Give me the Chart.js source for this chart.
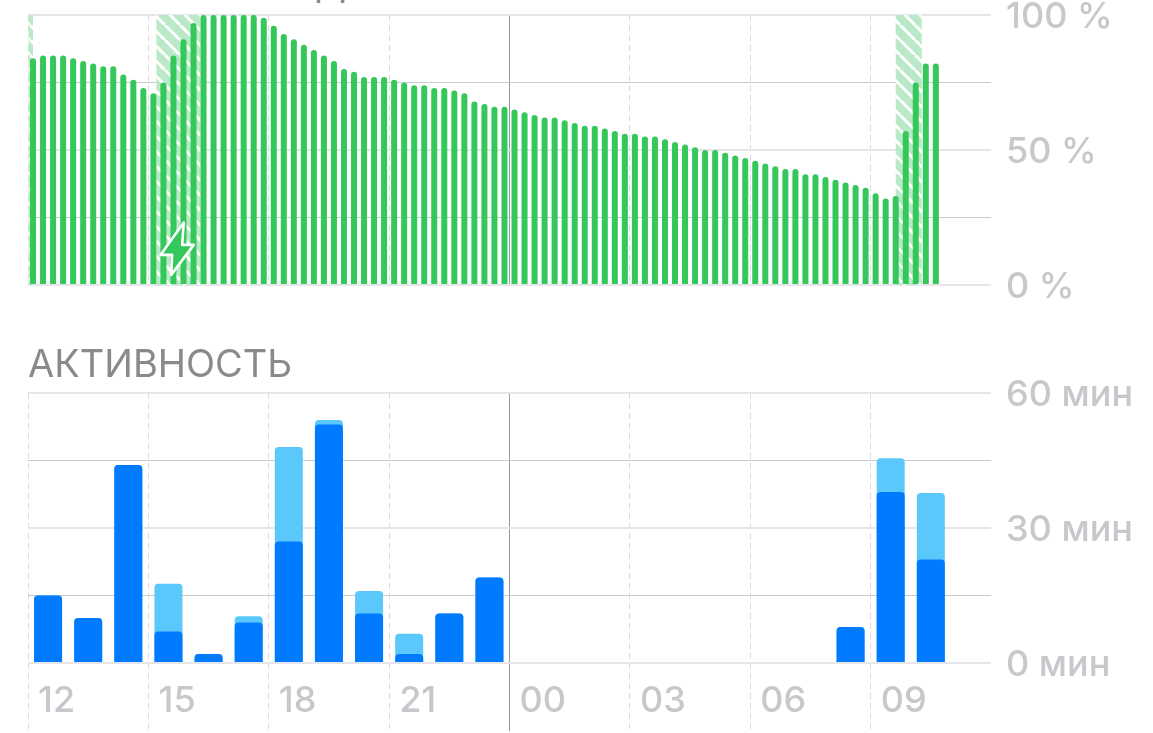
<!DOCTYPE html>
<html lang="ru">
<head>
<meta charset="utf-8">
<title>Аккумулятор</title>
<script src="https://cdn.jsdelivr.net/npm/chart.js@4"></script>
<style>
    html, body { margin: 0; height: 100%; background: #fff; overflow: hidden; }
    canvas { position: absolute; left: 0; }
    #batteryChart { top: -50px; }
    #activityChart { top: 340px; }
</style>
</head>
<body>
<div id="batteryBox"><canvas id="batteryChart" width="1153" height="400" style="width:1153px;height:400px"></canvas></div>
<div id="activityBox"><canvas id="activityChart" width="1153" height="393" style="width:1153px;height:393px"></canvas></div>
<script>
const batteryLevels = [
    84, 85, 85, 85, 84, 83, 82, 81, 81, 78, 76, 73, 71, 75, 85, 91,
    97, 100, 100, 100, 100, 100, 100, 99, 96, 93, 91, 89, 87, 85, 83, 80,
    79, 77, 77, 77, 76, 75, 74, 74, 73, 73, 72, 71, 68, 67, 66, 66,
    65, 64, 63, 62, 62, 61, 60, 59, 59, 58, 57, 56, 56, 55, 55, 54,
    53, 52, 51, 50, 50, 49, 48, 47, 46, 45, 44, 43, 43, 41, 41, 40,
    39, 38, 37, 36, 34, 32, 33, 57, 75, 82, 82
];
const hours = ['12', '13', '14', '15', '16', '17', '18', '19', '20', '21', '22', '23',
    '00', '01', '02', '03', '04', '05', '06', '07', '08', '09', '10', '11'];
const screenOnMinutes = [15, 10, 44, 7, 2, 9, 27, 53, 11, 2, 11, 19, 0, 0, 0, 0, 0, 0, 0, 0, 8, 38, 23, 0];
const totalMinutes = [15, 10, 44, 17.6, 2, 10.4, 48, 54, 16, 6.5, 11, 19, 0, 0, 0, 0, 0, 0, 0, 0, 8, 45.5, 37.8, 0];
// charging periods, in quarter-hour bar indexes
const chargingRanges = [[-0.44, 0], [12.3, 16.7], [86, 88.6]];
const chargeIconAt = { index: 14.3, level: 13 };
const batteryTicks = [0, 25, 50, 75, 100];
const activityTicks = [0, 15, 30, 45, 60];

const colors = {
    green: '#34c759',
    hatch: '#b9e9c6',
    blue: '#007aff',
    lightBlue: '#5ac8fa',
    gridLight: '#e5e5ea',
    gridDark: '#c9c9ce',
    dash: '#dcdce0',
    midnight: '#98989d',
    label: '#c7c7cc',
    title: '#8a8a8e'
};
const fontFamily = 'Inter, "Noto Sans", sans-serif';
const plotRight = 991;

function hatchPattern(ctx) {
    const size = 15;
    const tile = document.createElement('canvas');
    tile.width = size;
    tile.height = size;
    const t = tile.getContext('2d');
    t.fillStyle = colors.hatch;
    t.fillRect(0, 0, size, size);
    t.strokeStyle = '#fff';
    t.lineWidth = 3;
    [-size, 0, size].forEach((shift) => {
        t.beginPath();
        t.moveTo(shift, 0);
        t.lineTo(shift + size, size);
        t.stroke();
    });
    return ctx.createPattern(tile, 'repeat');
}

const chargingPlugin = {
    id: 'charging',
    beforeDatasetsDraw(chart) {
        const { ctx, scales, chartArea } = chart;
        ctx.save();
        ctx.fillStyle = hatchPattern(ctx);
        chargingRanges.forEach(([from, to]) => {
            const left = scales.x.getPixelForValue(from);
            const right = scales.x.getPixelForValue(to);
            ctx.fillRect(left, chartArea.top, right - left, chartArea.height);
        });
        ctx.restore();
    },
    afterDatasetsDraw(chart) {
        const { ctx, scales } = chart;
        const cx = scales.x.getPixelForValue(chargeIconAt.index);
        const cy = scales.y.getPixelForValue(chargeIconAt.level);
        const bolt = [[7.3, -27.3], [-16, 5], [-4.3, 5], [-5.3, 25], [17.3, -5], [5.7, -5]];
        ctx.save();
        ctx.beginPath();
        bolt.forEach(([dx, dy], i) => {
            if (i === 0) ctx.moveTo(cx + dx, cy + dy);
            else ctx.lineTo(cx + dx, cy + dy);
        });
        ctx.closePath();
        ctx.fillStyle = colors.green;
        ctx.fill();
        ctx.lineJoin = 'round';
        ctx.lineWidth = 2.6;
        ctx.strokeStyle = '#fff';
        ctx.stroke();
        ctx.restore();
    }
};

function xAxis(step, axisHeight, showLabels) {
    const midnight = step * 4;
    const isMark = (i) => i % step === 0;
    const lineColor = (c) => {
        if (c.index === midnight) return colors.midnight;
        return isMark(c.index) ? colors.dash : 'rgba(0,0,0,0)';
    };
    const dash = (c) => (c.index === midnight ? [] : [6, 4]);
    return {
        afterFit(scale) { scale.height = axisHeight; },
        border: { display: false, dash },
        grid: {
            color: lineColor,
            tickColor: lineColor,
            tickBorderDash: dash,
            tickLength: 68,
            drawTicks: showLabels
        },
        ticks: {
            display: showLabels,
            autoSkip: false,
            maxRotation: 0,
            align: 'start',
            labelOffset: -10,
            padding: -51,
            color: colors.label,
            font: { family: fontFamily, size: 36, weight: '500' },
            callback(value, index) {
                return isMark(index) ? this.getLabelForValue(value) : '';
            }
        }
    };
}

function yAxis(tickValues, unit) {
    return {
        position: 'right',
        min: tickValues[0],
        max: tickValues[tickValues.length - 1],
        afterFit(scale) { scale.width = 1153 - plotRight; },
        afterBuildTicks(scale) { scale.ticks = tickValues.map((value) => ({ value })); },
        border: { display: false },
        grid: {
            drawTicks: false,
            color: (c) => (c.index % 2 === 0 ? colors.gridLight : colors.gridDark),
            lineWidth: (c) => (c.index % 2 === 0 ? 2 : 1)
        },
        ticks: {
            padding: 15,
            labelOffset: 2,
            color: colors.label,
            font: { family: fontFamily, size: 36, weight: '500' },
            callback: (value, index) => (index % 2 === 0 ? `${value} ${unit}` : '')
        }
    };
}

function baseOptions(titleText, titlePadding, paddingLeft) {
    return {
        responsive: false,
        animation: false,
        layout: { padding: { left: paddingLeft, right: 0, top: 0, bottom: 0 } },
        plugins: {
            legend: { display: false },
            tooltip: { enabled: false },
            title: {
                display: true,
                text: titleText,
                align: 'start',
                color: colors.title,
                padding: titlePadding,
                font: { family: fontFamily, size: 38, weight: 'normal', lineHeight: 1.2 }
            }
        }
    };
}

new Chart(document.getElementById('batteryChart'), {
    type: 'bar',
    data: {
        labels: Array.from({ length: 96 }, (_, i) => String(i)),
        datasets: [{
            data: batteryLevels,
            backgroundColor: colors.green,
            barThickness: 6,
            inflateAmount: 0,
            borderRadius: { topLeft: 3, topRight: 3, bottomLeft: 0, bottomRight: 0 },
            borderSkipped: false
        }]
    },
    options: {
        ...baseOptions('УРОВЕНЬ ЗАРЯДА', { top: 12.5, bottom: 6.9 }, 28),
        scales: { x: xAxis(12, 65, false), y: yAxis(batteryTicks, '%') }
    },
    plugins: [chargingPlugin]
});

new Chart(document.getElementById('activityChart'), {
    type: 'bar',
    data: {
        labels: hours,
        datasets: [
            {
                data: screenOnMinutes,
                backgroundColor: colors.blue,
                order: 0,
                grouped: false,
                barThickness: 28,
                inflateAmount: 0,
                borderRadius: { topLeft: 4, topRight: 4, bottomLeft: 0, bottomRight: 0 },
                borderSkipped: false
            },
            {
                data: totalMinutes,
                backgroundColor: colors.lightBlue,
                order: 1,
                grouped: false,
                barThickness: 28,
                inflateAmount: 0,
                borderRadius: { topLeft: 4, topRight: 4, bottomLeft: 0, bottomRight: 0 },
                borderSkipped: false
            }
        ]
    },
    options: {
        ...baseOptions('АКТИВНОСТЬ', { top: 2.9, bottom: 4.5 }, 28),
        scales: { x: xAxis(3, 70, true), y: yAxis(activityTicks, 'мин') }
    }
});
</script>
</body>
</html>
